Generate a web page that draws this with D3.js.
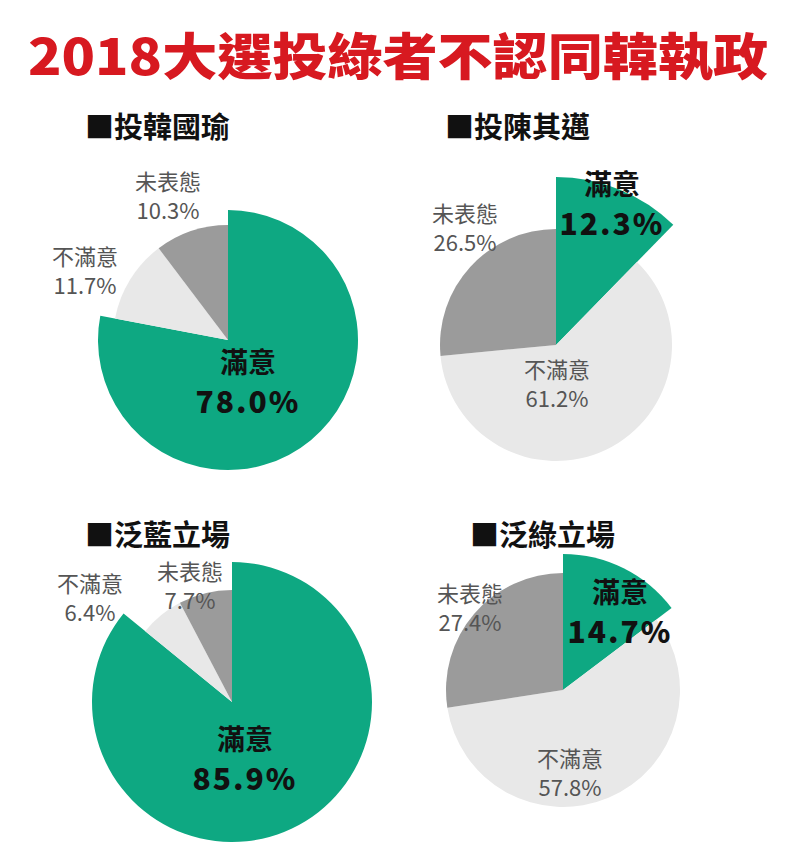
<!DOCTYPE html>
<html><head><meta charset="utf-8">
<script src="https://cdn.jsdelivr.net/npm/d3@7"></script>
<style>body{margin:0;background:#fff}svg{display:block}</style></head>
<body><svg id="c" width="800" height="858"></svg>
<script>
const title = "2018大選投綠者不認同韓執政";
const groups = ["投韓國瑜","投陳其邁","泛藍立場","泛綠立場"];
const categories = ["滿意","不滿意","未表態"];
const satisfied = [78.0, 12.3, 85.9, 14.7];
const dissatisfied = [11.7, 61.2, 6.4, 57.8];
const undecided = [10.3, 26.5, 7.7, 27.4];
const colors = ["#0ea882","#e8e8e8","#9b9b9b"];

// layout only
const layout = [
 {cx:228,cy:340,r:115,rg:130,hx:85,hy:138,lab:[[248,373],[85,265],[168,190]]},
 {cx:556,cy:345,r:116,rg:168,hx:445,hy:138,lab:[[612,195],[557,378],[465,222]]},
 {cx:232,cy:702,r:112,rg:140,hx:85,hy:546,lab:[[245,750],[90,592],[190,580]]},
 {cx:563,cy:690,r:117,rg:136,hx:470,hy:546,lab:[[620,603],[570,767],[470,602]]}
];
const svg = d3.select("#c");
svg.append("text").attr("x",28).attr("y",75)
 .attr("font-family","Noto Sans CJK TC").attr("font-weight",900).attr("font-size",50)
 .attr("textLength",740).attr("lengthAdjust","spacingAndGlyphs")
 .attr("fill","#d71920").text(title);
const pie = d3.pie().sort(null).value(d=>d);
groups.forEach((g,i)=>{
  const L = layout[i];
  const vals=[satisfied[i],dissatisfied[i],undecided[i]];
  const gg = svg.append("g").attr("transform",`translate(${L.cx},${L.cy})`);
  pie(vals).forEach((a,j)=>{
    gg.append("path").attr("d",d3.arc().innerRadius(0).outerRadius(j===0?L.rg:L.r)(a)).attr("fill",colors[j]);
  });
  svg.append("text").attr("x",L.hx).attr("y",L.hy).attr("font-family","Noto Sans CJK TC")
    .attr("font-weight",700).attr("font-size",29).attr("fill","#111").text("■"+g);
  vals.forEach((v,j)=>{
    const [x,y]=L.lab[j];
    const mk=()=>svg.append("text").attr("x",x).attr("text-anchor","middle").attr("font-family","Noto Sans CJK TC");
    if(j===0){
      mk().attr("y",y).attr("fill","#111").attr("font-size",28).attr("font-weight",700).text(categories[j]);
      mk().attr("y",y+40).attr("fill","#111").attr("font-weight",900).attr("font-size",30)
        .attr("letter-spacing",2).text(v.toFixed(1)+"%");
    } else {
      mk().attr("y",y).attr("fill","#555").attr("font-size",22).text(categories[j]);
      mk().attr("y",y+29).attr("fill","#555").attr("font-size",22).text(v.toFixed(1)+"%");
    }
  });
});
</script></body></html>
